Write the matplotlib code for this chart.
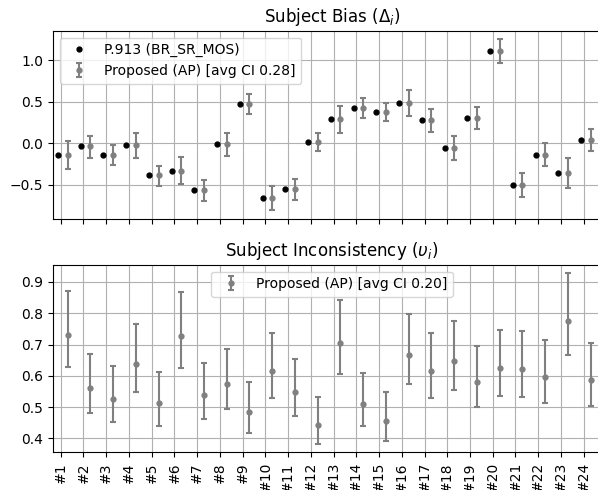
import numpy as np
import matplotlib
matplotlib.use("Agg")
import matplotlib.pyplot as plt

# subjects #1..#24
subjects = ["#%d" % i for i in range(1, 25)]

# subject bias: P.913 estimate and proposed (AP) estimate with CI bounds
p913_bias = [-0.137, -0.036, -0.137, -0.024, -0.386, -0.330, -0.567, -0.012,
             0.474, -0.663, -0.554, 0.012, 0.293, 0.430, 0.377, 0.485,
             0.277, -0.057, 0.305, 1.112, -0.498, -0.141, -0.361, 0.043]
ap_bias = [-0.137, -0.036, -0.137, -0.024, -0.386, -0.330, -0.567, -0.012,
           0.474, -0.663, -0.554, 0.012, 0.293, 0.430, 0.377, 0.485,
           0.277, -0.057, 0.305, 1.112, -0.498, -0.141, -0.361, 0.043]
ap_bias_lo = [-0.310, -0.170, -0.260, -0.170, -0.510, -0.490, -0.695, -0.150,
              0.357, -0.807, -0.683, -0.089, 0.128, 0.310, 0.270, 0.330,
              0.136, -0.205, 0.172, 0.967, -0.643, -0.273, -0.538, -0.096]
ap_bias_hi = [0.030, 0.088, -0.017, 0.120, -0.270, -0.165, -0.446, 0.120,
              0.590, -0.518, -0.426, 0.120, 0.453, 0.550, 0.480, 0.640,
              0.417, 0.090, 0.440, 1.253, -0.354, 0.000, -0.177, 0.176]

# subject inconsistency: proposed (AP) estimate with CI bounds
ap_inc = [0.729, 0.560, 0.527, 0.639, 0.512, 0.727, 0.538, 0.575,
          0.484, 0.615, 0.548, 0.444, 0.706, 0.511, 0.457, 0.668,
          0.615, 0.647, 0.582, 0.624, 0.622, 0.597, 0.776, 0.588]
ap_inc_lo = [0.627, 0.481, 0.452, 0.549, 0.440, 0.626, 0.462, 0.495,
             0.417, 0.530, 0.472, 0.383, 0.606, 0.439, 0.393, 0.574,
             0.529, 0.555, 0.500, 0.536, 0.534, 0.513, 0.667, 0.505]
ap_inc_hi = [0.872, 0.669, 0.630, 0.765, 0.612, 0.869, 0.642, 0.687,
             0.579, 0.736, 0.655, 0.532, 0.844, 0.610, 0.547, 0.799,
             0.736, 0.774, 0.695, 0.746, 0.744, 0.714, 0.928, 0.704]

x = np.arange(1, 25)
bias = np.array(ap_bias)
inc = np.array(ap_inc)
bias_err = [bias - np.array(ap_bias_lo), np.array(ap_bias_hi) - bias]
inc_err = [inc - np.array(ap_inc_lo), np.array(ap_inc_hi) - inc]

fig = plt.figure(figsize=(5.98, 4.90), dpi=100)
# axes run slightly past the right edge, like the cropped original
ax1 = fig.add_axes([53 / 598, 1 - 219 / 490, 558 / 598, 188.3 / 490])
ax2 = fig.add_axes([53 / 598, 1 - 452.3 / 490, 558 / 598, 187.6 / 490], sharex=ax1)

#--- top: subject bias ---#
ax1.plot(x - 0.12, p913_bias, 'o', color='black', ms=3.5, label='P.913 (BR_SR_MOS)')
ax1.errorbar(x + 0.3, bias, yerr=bias_err, fmt='o', color='gray', ms=3.5,
             elinewidth=1.5, capsize=2.2, capthick=1.5,
             label='Proposed (AP) [avg CI 0.28]')
ax1.set_title(r'Subject Bias ($\Delta_i$)', fontsize=12)
ax1.grid(True)
ax1.legend(loc='upper left', fontsize=10)
plt.setp(ax1.get_xticklabels(), visible=False)

#--- bottom: subject inconsistency ---#
ax2.errorbar(x + 0.3, inc, yerr=inc_err, fmt='o', color='gray', ms=3.5,
             elinewidth=1.5, capsize=2.2, capthick=1.5,
             label='Proposed (AP) [avg CI 0.20]')
ax2.set_title(r'Subject Inconsistency ($\upsilon_i$)', fontsize=12)
ax2.grid(True)
ax2.legend(loc='upper center', fontsize=10)

ax2.set_xticks(x)
ax2.set_xticklabels(subjects, rotation=90)
ax2.set_xlim(0.66, 25.2)

fig.savefig('out.png', dpi=100)
